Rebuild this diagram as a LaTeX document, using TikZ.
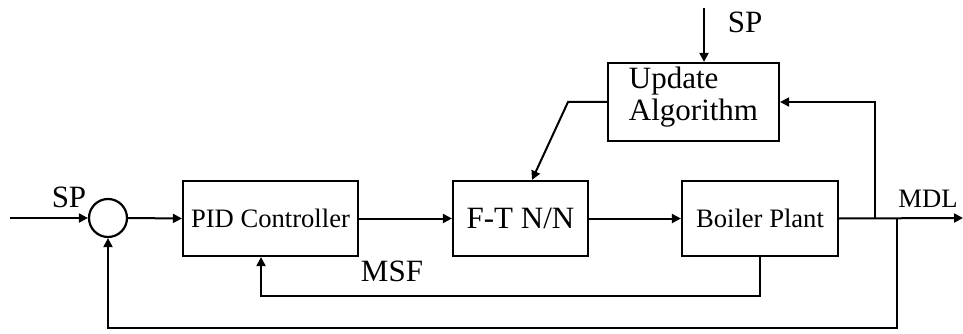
\documentclass[tikz,border=0pt]{standalone}
\usepackage{fontspec}
\setmainfont{Liberation Serif}
\usetikzlibrary{arrows.meta,positioning}
\tikzset{
  ar/.style={-{Triangle[length=9pt,width=9pt]},line width=2pt},
  box/.style={draw,line width=2.2pt,inner sep=0pt,align=center},
  bigf/.style={font=\fontsize{31}{32}\selectfont},
  smallf/.style={font=\fontsize{26.6}{28}\selectfont}
}
\begin{document}
\begin{tikzpicture}[x=1pt,y=-1pt]
\useasboundingbox (0,0) rectangle (963,334);
% blocks
\node[box,circle,minimum size=38pt] (sum) at (108,218) {};
\node[box,smallf,minimum width=175pt,minimum height=75pt] (pid) at (270.5,218.5) {PID Controller};
\node[box,bigf,minimum width=135pt,minimum height=75pt] (ftnn) at (520.5,218.5) {F-T N/N};
\node[box,smallf,minimum width=156pt,minimum height=75pt] (boiler) at (760,218.5) {Boiler Plant};
\node[box,bigf,align=left,text depth=17pt,minimum width=171pt,minimum height=78pt] (upd) at (693.5,102) {Update\\Algorithm};
% labels
\node[bigf,anchor=base] (spleft) at (69,207) {SP};
\node[bigf,anchor=base] (sptop) at (745,33) {SP};
\node[bigf,anchor=base] (msf) at (392,281) {MSF};
\node[smallf,anchor=base] (mdl) at (928,207) {MDL};
% points
\coordinate (in) at (10,218);
\coordinate (out) at (963,218);
\coordinate (tapup) at (875,218);
\coordinate (tapdn) at (897,218);
\coordinate (fbbot) at (897,328);
\coordinate (msfbot) at (261,296);
\coordinate (bend) at (568,102);
\coordinate (spin) at (704,8);
% forward path
\draw[ar] (in) -- (sum.west);
\draw[ar] (sum.east) -- (pid.west);
\draw[ar] (pid.east) -- (ftnn.west);
\draw[ar] (ftnn.east) -- (boiler.west);
\draw[ar] (boiler.east) -- (out);
% feedback
\draw[ar] (boiler.south) |- (msfbot) -- (msfbot |- pid.south);
\draw[ar] (tapdn) -- (fbbot) -| (sum.south);
\draw[ar] (tapup) |- (upd.east);
\draw[ar] (upd.west) -- (bend) -- ([xshift=11.5pt]ftnn.north);
\draw[ar] (spin) -- ([xshift=10.5pt]upd.north);
\end{tikzpicture}
\end{document}
